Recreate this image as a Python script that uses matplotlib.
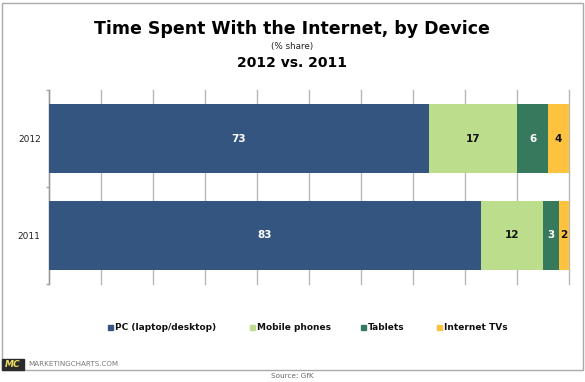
import matplotlib
matplotlib.use("Agg")
import matplotlib.pyplot as plt
from matplotlib.patches import Rectangle

plt.rcParams['font.family'] = ['DejaVu Sans']

years = ["2011", "2012"]
series_names = ["PC (laptop/desktop)", "Mobile phones", "Tablets", "Internet TVs"]
pc = [83, 73]
mobile = [12, 17]
tablets = [3, 6]
tvs = [2, 4]
colors = ["#33557f", "#bcdd8c", "#37795c", "#fdc23e"]
legend_x = [108, 250, 361, 437]

W, H = 585, 382
fig = plt.figure(figsize=(W / 100, H / 100), dpi=100, facecolor="white")
ax = fig.add_axes([49 / W, 1 - 284 / H, (569 - 49) / W, (284 - 90) / H])

left = [0, 0]
for vals, color in zip([pc, mobile, tablets, tvs], colors):
    bars = ax.barh([0, 1], vals, height=0.71, left=left, color=color, zorder=3)
    for bar, v in zip(bars, vals):
        txt = "#111111" if color in (colors[1], colors[3]) else "white"
        ax.text(bar.get_x() + bar.get_width() / 2, bar.get_y() + bar.get_height() / 2, str(v),
                ha="center", va="center", color=txt, fontsize=7.5, fontweight="bold", zorder=4)
    left = [a + b for a, b in zip(left, vals)]

ax.set_xlim(0, 100)
ax.set_ylim(-0.5, 1.5)
ax.set_yticks([0, 1], years)
ax.set_yticks([-0.5, 0.5, 1.5], minor=True)
ax.set_xticks(range(0, 101, 10))
ax.tick_params(axis="x", length=0, labelbottom=False)
ax.grid(axis="x", color="#b8b8b8", linewidth=1, zorder=1, clip_on=False)
ax.tick_params(axis="y", which="major", labelsize=6.5, length=0, labelcolor="#222222", pad=6)
ax.tick_params(axis="y", which="minor", length=2, width=1, color="#aaaaaa")
for side in ["top", "right", "bottom"]:
    ax.spines[side].set_visible(False)
ax.spines["left"].set_color("#999999")
ax.spines["left"].set_linewidth(1)

fig.text(292 / W, 1 - 29 / H, "Time Spent With the Internet, by Device", ha="center", va="center",
         fontsize=12.5, fontweight="bold", color="#000000")
fig.text(292 / W, 1 - 47 / H, "(% share)", ha="center", va="center", fontsize=6.3, color="#222222")
fig.text(292 / W, 1 - 63 / H, "2012 vs. 2011", ha="center", va="center", fontsize=10, fontweight="bold", color="#000000")

for name, color, x in zip(series_names, colors, legend_x):
    fig.add_artist(Rectangle((x / W, 1 - 330 / H), 5 / W, 5 / H, color=color, transform=fig.transFigure))
    fig.text((x + 7) / W, 1 - 327.5 / H, name, ha="left", va="center", fontsize=6.5, fontweight="bold", color="#111111")

# outer frame and bottom strip
fig.add_artist(Rectangle((1.5 / W, 1 - 370 / H), 581 / W, 367.5 / H, fill=False, edgecolor="#aaaaaa", linewidth=1,
                         transform=fig.transFigure))
fig.add_artist(Rectangle((2 / W, 1 - 370 / H), 22 / W, 11 / H, color="#2b2b2b", transform=fig.transFigure))
fig.text(12.5 / W, 1 - 364.5 / H, "MC", ha="center", va="center", fontsize=6.5, fontweight="bold", style="italic", color="#f0e060")
fig.text(28 / W, 1 - 364.5 / H, "MARKETINGCHARTS.COM", ha="left", va="center", fontsize=5.1, color="#777777")
fig.text(292 / W, 1 - 376 / H, "Source: GfK", ha="center", va="center", fontsize=5.2, color="#666666")

fig.savefig("out.png", dpi=100)
